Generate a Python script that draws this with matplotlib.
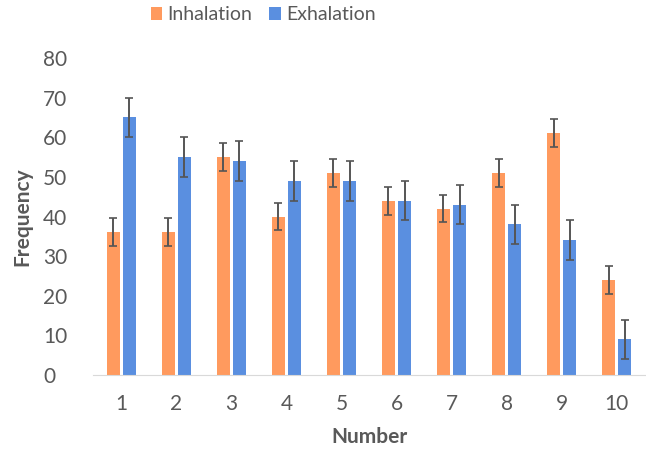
import numpy as np
import matplotlib.pyplot as plt

numbers = [1, 2, 3, 4, 5, 6, 7, 8, 9, 10]
inhalation = [36, 36, 55, 40, 51, 44, 42, 51, 61, 24]
exhalation = [65, 55, 54, 49, 49, 44, 43, 38, 34, 9]
inhalation_err = [3.5, 3.5, 3.5, 3.5, 3.5, 3.5, 3.5, 3.5, 3.5, 3.5]
exhalation_err = [5, 5, 5, 5, 5, 5, 5, 5, 5, 5]

plt.rcParams['font.family'] = ['Lato', 'DejaVu Sans']

fig = plt.figure(figsize=(6.46, 4.55), dpi=100)
ax = fig.add_axes([0.144, 0.1758, 0.856, 0.6967])

x = np.array(numbers)
w = 0.236
err_kw = dict(ecolor='#555555', elinewidth=1.4, capsize=3, capthick=1.2)
ax.bar(x - 0.147, inhalation, w, yerr=inhalation_err, color='#FF9A5E',
       label='Inhalation', error_kw=err_kw)
ax.bar(x + 0.147, exhalation, w, yerr=exhalation_err, color='#5A8FE0',
       label='Exhalation', error_kw=err_kw)

ax.set_xlim(0.49, 10.53)
ax.set_ylim(0, 80)
ax.set_yticks(range(0, 81, 10))
ax.set_xticks(x)
ax.set_xticklabels([str(n) for n in numbers])
for s in ['top', 'right', 'left']:
    ax.spines[s].set_visible(False)
ax.spines['bottom'].set_color('#d9d9d9')
ax.tick_params(axis='both', length=0, labelsize=15, labelcolor='#595959')
ax.tick_params(axis='y', pad=36)
ax.tick_params(axis='x', pad=14)
for lab in ax.get_yticklabels():
    lab.set_horizontalalignment('left')

ax.set_xlabel('Number', fontsize=15, fontweight='bold', color='#595959', labelpad=9)
ax.set_ylabel('Frequency', fontsize=15, fontweight='bold', color='#595959', labelpad=8)

fig.legend(loc='center left', bbox_to_anchor=(133 / 646, 1 - 15 / 455), ncol=2,
           frameon=False, fontsize=14, handlelength=0.6, handleheight=0.6,
           columnspacing=0.9, handletextpad=0.25, labelcolor='#595959')

fig.savefig('out.png', dpi=100)
